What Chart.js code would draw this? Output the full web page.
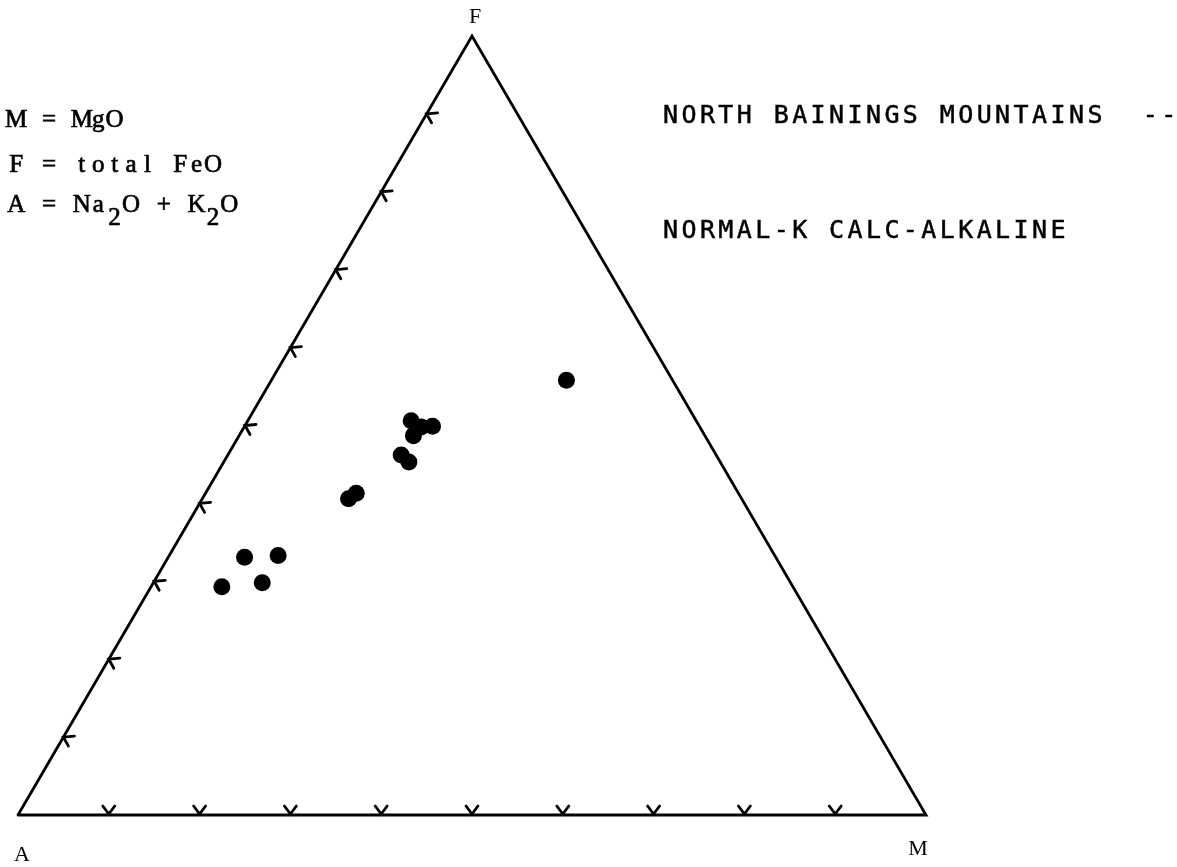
<!DOCTYPE html>
<html>
<head>
<meta charset="utf-8">
<script src="https://cdn.jsdelivr.net/npm/chart.js@4/dist/chart.umd.min.js"></script>
<style>
  html, body { margin: 0; padding: 0; background: #ffffff; }
  #wrap { width: 1177px; height: 867px; }
</style>
</head>
<body>
<div id="wrap"><canvas id="afm" width="1177" height="867"></canvas></div>
<script>
// AFM compositions of the North Bainings Mountains lavas (normalised to 100 %)
// A = Na2O + K2O, F = total FeO, M = MgO
const alkali = [11.7, 31.4, 30.7, 29.4, 32.1, 34.7, 34.3, 43.3, 42.1, 58.5, 54.7, 62.9, 58.2];
const feo    = [55.8, 50.6, 49.8, 49.9, 48.7, 46.2, 45.3, 40.6, 41.3, 33.1, 33.3, 29.3, 29.8];
const mgo    = [32.5, 18.0, 19.5, 20.7, 19.2, 19.1, 20.4, 16.1, 16.6,  8.4, 12.0,  7.8, 12.0];

// 10 % graduations marked along the A–M and A–F edges
const edgeTicks = [10, 20, 30, 40, 50, 60, 70, 80, 90];

// Ternary -> plotting plane: x runs A→M along the base, y rises toward F
function toXY(a, f, m) {
  const s = a + f + m;
  const F = f / s * 100, M = m / s * 100;
  return { x: M + F / 2, y: F };
}

const frame = [toXY(100, 0, 0), toXY(0, 0, 100), toXY(0, 100, 0), toXY(100, 0, 0)];
const samples = alkali.map((a, i) => toXY(a, feo[i], mgo[i]));

const edgeMarks = {
  id: 'edgeMarks',
  afterDatasetsDraw(chart) {
    const { ctx, scales: { x, y } } = chart;
    ctx.save();
    ctx.strokeStyle = '#000';
    ctx.lineWidth = 2.8;
    ctx.lineCap = 'round';
    ctx.lineJoin = 'miter';
    edgeTicks.forEach(p => {
      // base (A–M edge): small "v" resting on the line
      const b = toXY(100 - p, 0, p);
      const bx = x.getPixelForValue(b.x), by = y.getPixelForValue(b.y);
      ctx.beginPath();
      ctx.moveTo(bx - 6, by - 9);
      ctx.lineTo(bx, by - 1);
      ctx.lineTo(bx + 6, by - 9);
      ctx.stroke();
      // left (A–F edge): arrow head pointing outward
      const l = toXY(100 - p, p, 0);
      const lx = x.getPixelForValue(l.x), ly = y.getPixelForValue(l.y);
      ctx.beginPath();
      ctx.moveTo(lx + 11, ly - 1);
      ctx.lineTo(lx, ly);
      ctx.lineTo(lx + 5, ly + 9);
      ctx.stroke();
    });
    ctx.restore();
  }
};

const annotations = {
  id: 'annotations',
  afterDraw(chart) {
    const { ctx } = chart;
    ctx.save();
    ctx.fillStyle = '#000';
    ctx.strokeStyle = '#000';
    ctx.textBaseline = 'alphabetic';

    // Oxide key in a fixed-pitch serif, one character per cell
    const pitch = 16.4;
    ctx.font = '25px "Liberation Serif", serif';
    ctx.textAlign = 'center';
    ctx.lineWidth = 0.7;
    const typed = (t, col, py) => {
      [...t].forEach((ch, i) => {
        if (ch === ' ') return;
        const px = 8 + pitch * (col + i + 0.5);
        ctx.fillText(ch, px, py);
        ctx.strokeText(ch, px, py);
      });
    };
    typed('M = MgO', 0, 127);
    typed('F = total FeO', 0, 172);
    typed('A = Na', 0, 212);
    typed('2', 6, 225);
    typed('O + K', 7, 212);
    typed('2', 12, 225);
    typed('O', 13, 212);

    // Vertex labels
    ctx.font = '22px "Liberation Serif", serif';
    ctx.lineWidth = 0.4;
    ctx.fillText('F', 475, 23);
    ctx.fillText('A', 22, 861);
    ctx.fillText('M', 918, 855);

    // Suite heading
    ctx.textAlign = 'left';
    ctx.font = '25px "DejaVu Sans Mono", monospace';
    ctx.letterSpacing = '3.4px';
    ctx.lineWidth = 0.5;
    const heading = (t, px, py) => { ctx.fillText(t, px, py); ctx.strokeText(t, px, py); };
    heading('NORTH BAININGS MOUNTAINS  --', 663, 123);
    heading('NORMAL-K CALC-ALKALINE', 663, 238);
    ctx.restore();
  }
};

new Chart(document.getElementById('afm'), {
  type: 'scatter',
  data: {
    datasets: [
      {
        label: 'frame',
        data: frame,
        showLine: true,
        borderColor: '#000',
        borderWidth: 2.8,
        borderJoinStyle: 'miter',
        borderCapStyle: 'round',
        pointRadius: 0,
        tension: 0,
        clip: false
      },
      {
        label: 'samples',
        data: samples,
        pointRadius: 8.5,
        pointBackgroundColor: '#000',
        pointBorderColor: '#000',
        pointBorderWidth: 0,
        clip: false
      }
    ]
  },
  options: {
    responsive: false,
    animation: false,
    devicePixelRatio: 1,
    layout: { padding: { left: 18, right: 251, top: 36, bottom: 52 } },
    scales: {
      x: { type: 'linear', min: 0, max: 100, display: false },
      y: { type: 'linear', min: 0, max: 100, display: false }
    },
    plugins: { legend: { display: false }, tooltip: { enabled: false } }
  },
  plugins: [edgeMarks, annotations]
});
</script>
</body>
</html>
